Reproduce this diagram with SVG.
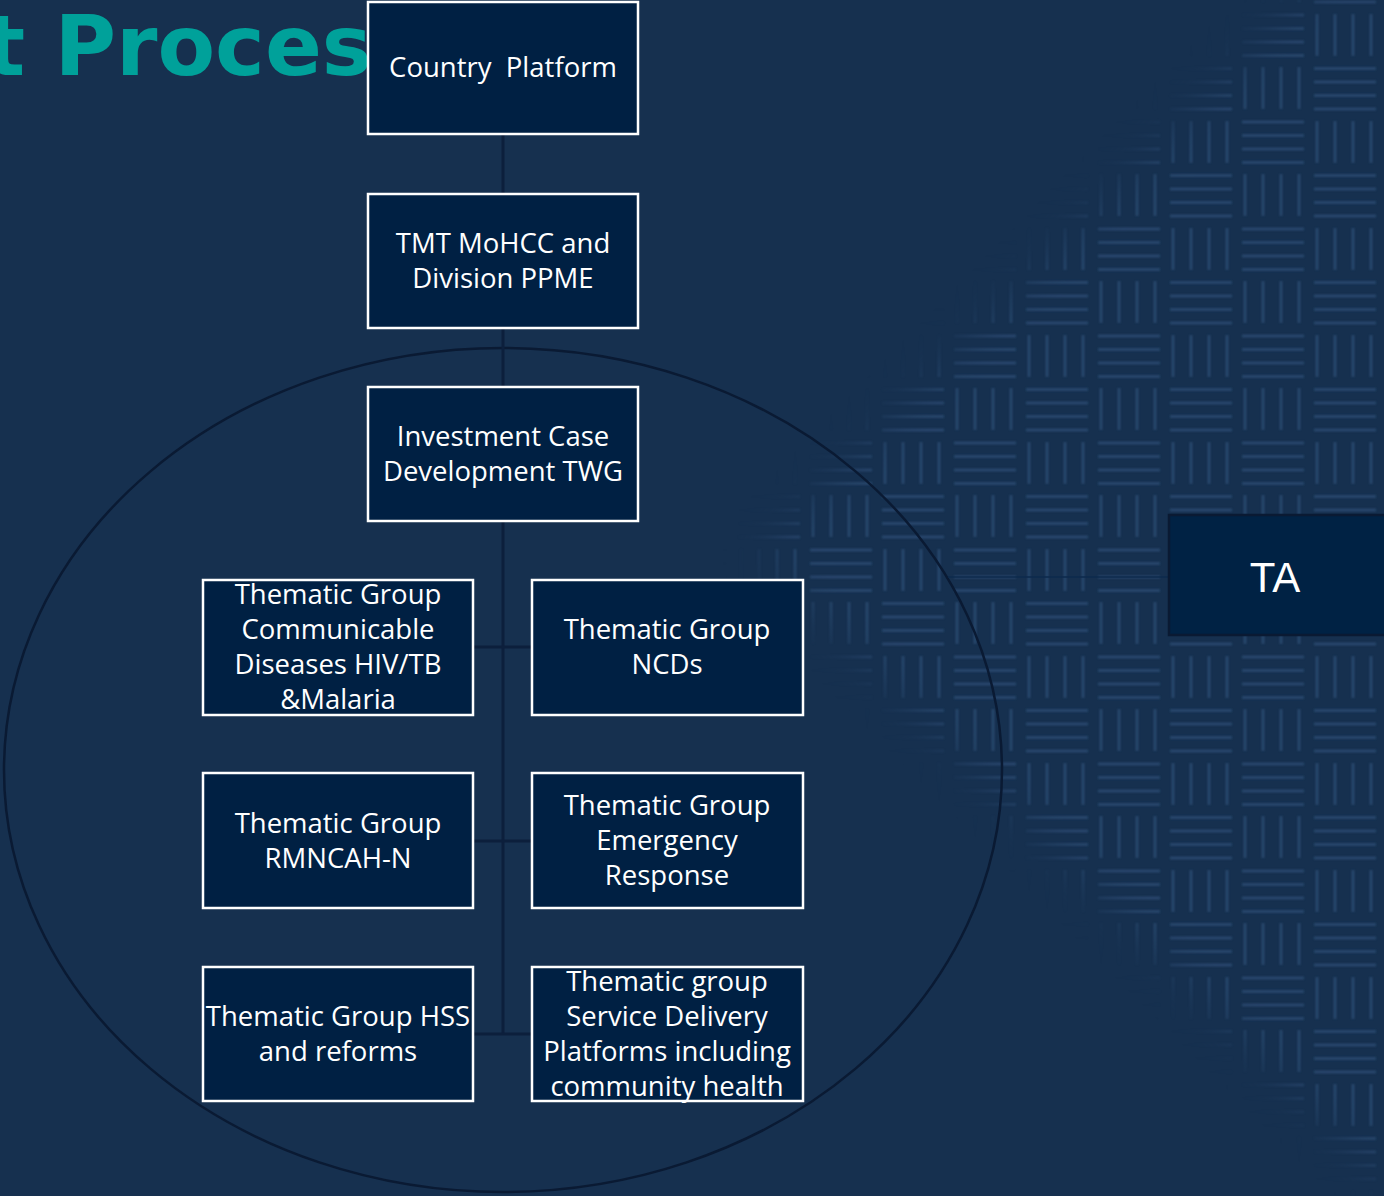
<svg xmlns="http://www.w3.org/2000/svg" width="1384" height="1196" viewBox="0 0 1384 1196">
<style>
.box{fill:#002043;stroke:#ffffff;stroke-width:2.5}
.lbl{font-family:"Open Sans","Noto Sans",sans-serif;font-size:27.5px;fill:#ffffff;text-anchor:middle}
.conn{stroke:#0c1f3c;stroke-width:3;fill:none}
.pl{stroke:#2d4f76;stroke-width:2.4}
</style>
<defs>
<pattern id="weave" patternUnits="userSpaceOnUse" x="1169" y="11" width="144" height="107">
<g class="pl">
<line x1="4" y1="3" x2="4" y2="45"/><line x1="22" y1="3" x2="22" y2="45"/><line x1="40" y1="3" x2="40" y2="45"/><line x1="58" y1="3" x2="58" y2="45"/>
<line x1="73" y1="4" x2="135" y2="4"/><line x1="73" y1="17.5" x2="135" y2="17.5"/><line x1="73" y1="31" x2="135" y2="31"/><line x1="73" y1="44.5" x2="135" y2="44.5"/>
<line x1="1" y1="57.5" x2="63" y2="57.5"/><line x1="1" y1="71" x2="63" y2="71"/><line x1="1" y1="84.5" x2="63" y2="84.5"/><line x1="1" y1="98" x2="63" y2="98"/>
<line x1="76" y1="56" x2="76" y2="98"/><line x1="94" y1="56" x2="94" y2="98"/><line x1="112" y1="56" x2="112" y2="98"/><line x1="130" y1="56" x2="130" y2="98"/>
</g>
</pattern>
<filter id="soft" filterUnits="userSpaceOnUse" x="0" y="0" width="1384" height="1196">
<feGaussianBlur stdDeviation="18"/>
</filter>
<filter id="fuzz" filterUnits="userSpaceOnUse" x="0" y="0" width="1384" height="1196">
<feGaussianBlur stdDeviation="0.9"/>
</filter>
<mask id="diamond" maskUnits="userSpaceOnUse" x="0" y="0" width="1384" height="1196">
<polygon points="1320,-20 1420,-20 1420,1180 1384,1180 760,555" fill="#ffffff" filter="url(#soft)"/>
</mask>
</defs>
<rect x="0" y="0" width="1384" height="1196" fill="#16304f"/>
<g mask="url(#diamond)">
<rect x="0" y="0" width="1384" height="1196" fill="url(#weave)" filter="url(#fuzz)" opacity="0.9"/>
</g>
<text x="-15" y="75" font-family="DejaVu Sans, sans-serif" font-weight="bold" font-size="84" fill="#00a19a">t Proces</text>
<ellipse cx="503" cy="770" rx="499" ry="422" fill="none" stroke="#0a1a33" stroke-width="2.5"/>
<g id="connectors">
<line class="conn" x1="503" y1="135" x2="503" y2="1034"/>
<line class="conn" x1="474" y1="647" x2="531" y2="647"/>
<line class="conn" x1="474" y1="841" x2="531" y2="841"/>
<line class="conn" x1="474" y1="1034" x2="531" y2="1034"/>
<line x1="948" y1="577" x2="1168" y2="577" stroke="#0d2a4d" stroke-width="1.5"/>
</g>
<g id="country-platform">
<rect class="box" x="368" y="2" width="270" height="132"/>
<text class="lbl" x="503" y="77" xml:space="preserve">Country  Platform</text>
</g>
<g id="tmt">
<rect class="box" x="368" y="194" width="270" height="134"/>
<text class="lbl" x="503" y="253">TMT MoHCC and</text>
<text class="lbl" x="503" y="288">Division PPME</text>
</g>
<g id="investment-case">
<rect class="box" x="368" y="387" width="270" height="134"/>
<text class="lbl" x="503" y="446">Investment Case</text>
<text class="lbl" x="503" y="481">Development TWG</text>
</g>
<g id="tg-communicable">
<rect class="box" x="203" y="580" width="270" height="135"/>
<text class="lbl" x="338" y="604">Thematic Group</text>
<text class="lbl" x="338" y="639">Communicable</text>
<text class="lbl" x="338" y="674">Diseases HIV/TB</text>
<text class="lbl" x="338" y="709">&amp;Malaria</text>
</g>
<g id="tg-ncds">
<rect class="box" x="532" y="580" width="271" height="135"/>
<text class="lbl" x="667" y="639">Thematic Group</text>
<text class="lbl" x="667" y="674">NCDs</text>
</g>
<g id="tg-rmncah">
<rect class="box" x="203" y="773" width="270" height="135"/>
<text class="lbl" x="338" y="833">Thematic Group</text>
<text class="lbl" x="338" y="868">RMNCAH-N</text>
</g>
<g id="tg-emergency">
<rect class="box" x="532" y="773" width="271" height="135"/>
<text class="lbl" x="667" y="815">Thematic Group</text>
<text class="lbl" x="667" y="850">Emergency</text>
<text class="lbl" x="667" y="885">Response</text>
</g>
<g id="tg-hss">
<rect class="box" x="203" y="967" width="270" height="134"/>
<text class="lbl" x="338" y="1026">Thematic Group HSS</text>
<text class="lbl" x="338" y="1061">and reforms</text>
</g>
<g id="tg-service-delivery">
<rect class="box" x="532" y="967" width="271" height="134"/>
<text class="lbl" x="667" y="991">Thematic group</text>
<text class="lbl" x="667" y="1026">Service Delivery</text>
<text class="lbl" x="667" y="1061">Platforms including</text>
<text class="lbl" x="667" y="1096">community health</text>
</g>
<g id="ta">
<rect x="1169" y="515" width="222" height="120" fill="#002244" stroke="#0a1a33" stroke-width="2.5"/>
<text x="1275" y="592" font-family="Liberation Sans, Arial, sans-serif" font-size="42" fill="#ffffff" text-anchor="middle">TA</text>
</g>
</svg>
